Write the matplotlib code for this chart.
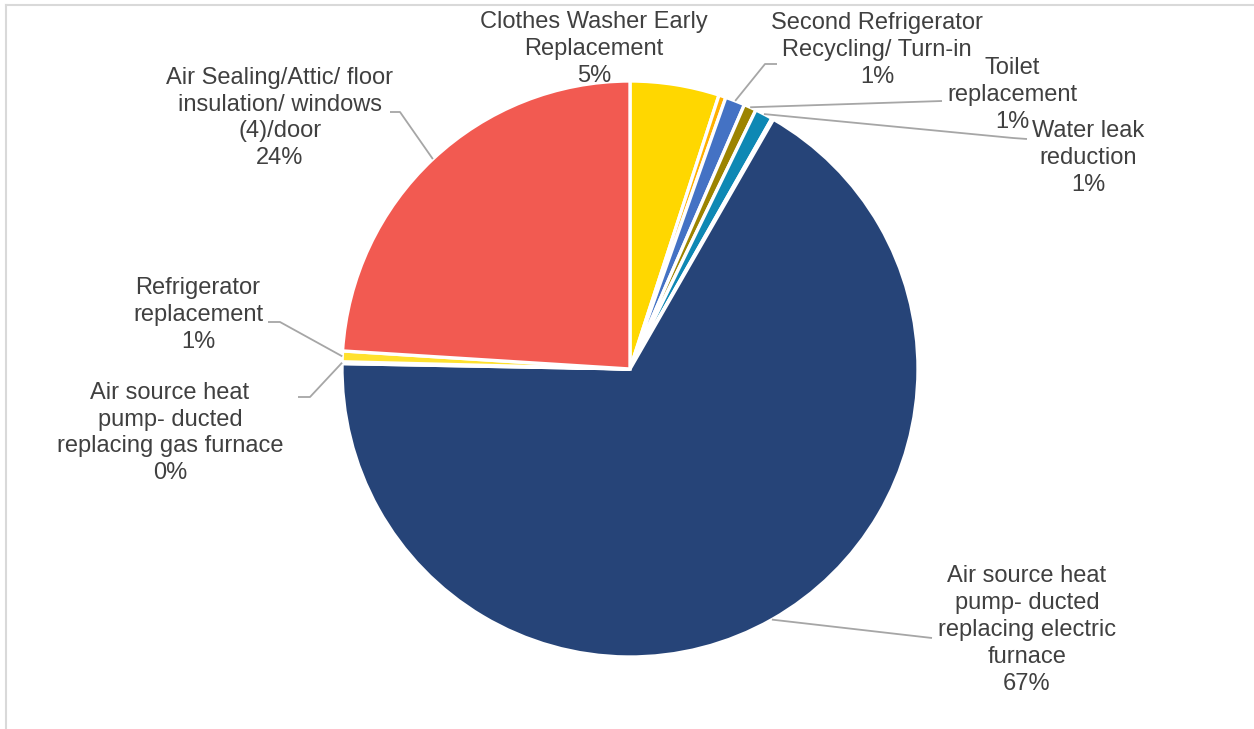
import numpy as np
import matplotlib
matplotlib.use("Agg")
import matplotlib.pyplot as plt

# Share of program savings by measure (percent), clockwise from 12 o'clock
measures = [
    "Clothes Washer Early\nReplacement",
    "",
    "Second Refrigerator\nRecycling/ Turn-in",
    "Toilet\nreplacement",
    "Water leak\nreduction",
    "",
    "Air source heat\npump- ducted\nreplacing electric\nfurnace",
    "Air source heat\npump- ducted\nreplacing gas furnace",
    "Refrigerator\nreplacement",
    "Air Sealing/Attic/ floor\ninsulation/ windows\n(4)/door",
]
shares = [5.0, 0.4, 1.1, 0.7, 1.0, 0.1, 67.0, 0.1, 0.6, 24.0]
pct_labels = ["5%", "", "1%", "1%", "1%", "", "67%", "0%", "1%", "24%"]
colors = ["#FFD700", "#FFB000", "#4472C4", "#9C8400", "#0E88B4",
          "#C9A46A", "#264478", "#F0C000", "#FFE12E", "#F25A51"]

W, H = 1254, 729
fig = plt.figure(figsize=(W / 100, H / 100), dpi=100)
ax = fig.add_axes([0, 0, 1, 1])

cx, cy, R = 630, H - 369, 288
wedges, _ = ax.pie(shares, colors=colors, startangle=90, counterclock=False,
                   center=(cx, cy), radius=R, frame=True,
                   wedgeprops=dict(edgecolor="white", linewidth=2.4))
ax.set_xlim(0, W)
ax.set_ylim(0, H)
ax.set_aspect("equal")
ax.axis("off")

# outer chart frame
ax.plot([6, W], [H - 5, H - 5], color="#D9D9D9", lw=1.5, clip_on=False)
ax.plot([6, 6], [0, H - 5], color="#D9D9D9", lw=1.5, clip_on=False)

txt_color = "#404040"
line_color = "#A6A6A6"
font = dict(family=["Liberation Sans", "DejaVu Sans"], fontsize=17,
            color=txt_color, ha="center", va="center")
line_step = 26.8  # pixels between label lines

# label block centre (pixel x, pixel y from top), leader path after the wedge edge
layout = {
    0: ((594, 49), None),
    2: ((877, 50), [(765, 64), (777, 64)]),
    3: ((1012, 95), [(942, 101)]),
    4: ((1088, 158), [(1013, 138), (1027, 139)]),
    6: ((1027, 630), [(932, 638)]),
    7: ((170, 433), [(310, 397), (298, 397)]),
    8: ((198, 315), [(280, 322), (268, 322)]),
    9: ((280, 118), [(400, 112), (390, 112)]),
}

for i, ((lx, ly), path) in layout.items():
    w = wedges[i]
    mid = np.deg2rad((w.theta1 + w.theta2) / 2)
    sx, sy = cx + R * np.cos(mid), cy + R * np.sin(mid)
    lines = measures[i].split("\n") + [pct_labels[i]]
    n = len(lines)
    for k, s in enumerate(lines):
        y = ly + (k - (n - 1) / 2) * line_step
        ax.text(lx, H - y, s, **font)
    if path:
        xs = [sx] + [p[0] for p in path]
        ys = [sy] + [H - p[1] for p in path]
        ax.plot(xs, ys, color=line_color, lw=1.3, solid_capstyle="butt")

fig.savefig("out.png", dpi=100, facecolor="white")
